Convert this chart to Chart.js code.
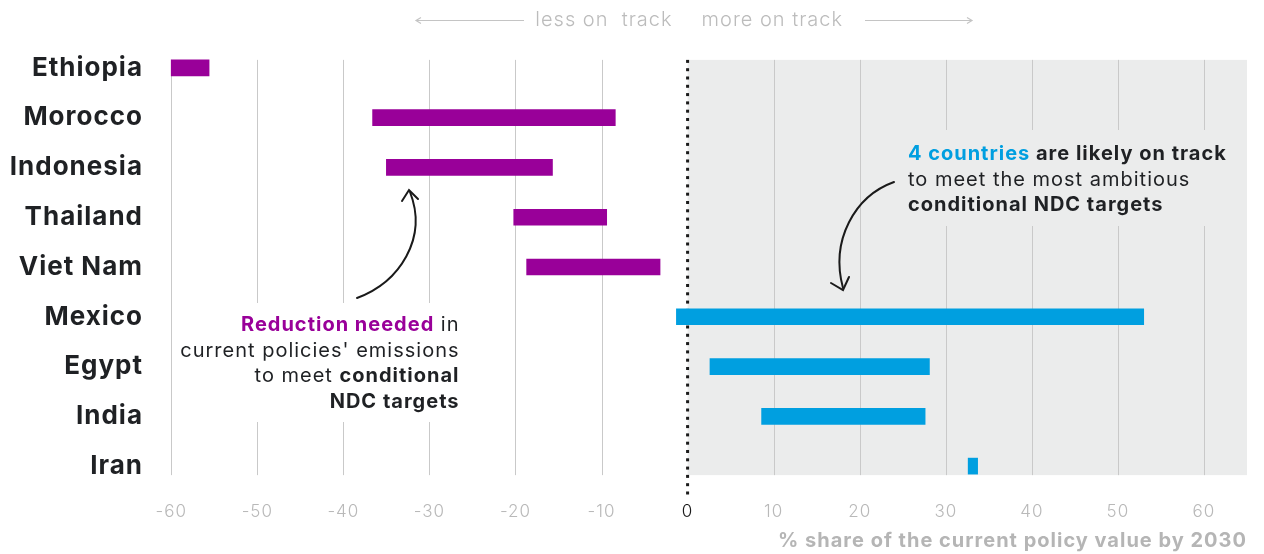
<!DOCTYPE html>
<html>
<head>
<meta charset="utf-8">
<script src="https://cdn.jsdelivr.net/npm/chart.js@4.4.1/dist/chart.umd.min.js"></script>
<style>
  html, body { margin: 0; padding: 0; background: #fff; }
  #wrap { width: 1264px; height: 554px; position: relative; }
</style>
</head>
<body>
<div id="wrap"><canvas id="ndcChart"></canvas></div>
<script>
const countries = ['Ethiopia', 'Morocco', 'Indonesia', 'Thailand', 'Viet Nam', 'Mexico', 'Egypt', 'India', 'Iran'];
const rangeStart = [-60, -36.6, -35.0, -20.2, -18.7, -1.3, 2.6, 8.6, 32.6];
const rangeEnd = [-55.6, -8.4, -15.7, -9.4, -3.2, 53.0, 28.1, 27.6, 33.7];
const onTrack = [false, false, false, false, false, true, true, true, true];
const xTicks = [-60, -50, -40, -30, -20, -10, 0, 10, 20, 30, 40, 50, 60];

const FONT = 'Inter, "Open Sans", sans-serif';
const purple = '#990099';
const blue = '#009fe0';
const dark = '#1f2124';
const lightGrey = '#b9b9b9';

const drawRuns = (ctx, runs, x, y, align, size) => {
    let total = 0;
    runs.forEach(r => {
        ctx.font = r[1] + ' ' + size + 'px ' + FONT;
        total += ctx.measureText(r[0]).width;
    });
    let cx = align === 'right' ? x - total : x;
    ctx.textAlign = 'left';
    ctx.textBaseline = 'middle';
    runs.forEach(r => {
        ctx.font = r[1] + ' ' + size + 'px ' + FONT;
        ctx.fillStyle = r[2];
        ctx.fillText(r[0], cx, y);
        cx += ctx.measureText(r[0]).width;
    });
};

const arrowHead = (ctx, tx, ty, ax, ay, bx, by) => {
    ctx.beginPath();
    ctx.moveTo(ax, ay);
    ctx.lineTo(tx, ty);
    ctx.lineTo(bx, by);
    ctx.stroke();
};

const decorations = {
    id: 'decorations',
    beforeDraw(chart) {
        // wider text, closer to the original geometric font
        chart.ctx.letterSpacing = '1px';
    },
    beforeDatasetsDraw(chart) {
        const ctx = chart.ctx;
        const x = chart.scales.x;
        const y = chart.scales.y;
        const area = chart.chartArea;
        const top = y.getPixelForValue(0) - 8;
        const bottom = y.getPixelForValue(countries.length - 1) + 9;
        const zero = x.getPixelForValue(0);

        ctx.save();
        // grey "on track" side
        ctx.fillStyle = '#ebecec';
        ctx.fillRect(zero, top, area.right - zero, bottom - top);

        // grid lines
        ctx.strokeStyle = '#c9c9c9';
        ctx.lineWidth = 1;
        xTicks.forEach(v => {
            if (v === 0) return;
            const px = Math.round(x.getPixelForValue(v)) + 0.5;
            ctx.beginPath();
            ctx.moveTo(px, top);
            ctx.lineTo(px, bottom);
            ctx.stroke();
        });

        // boxes behind the notes
        ctx.fillStyle = '#ffffff';
        ctx.fillRect(x.getPixelForValue(-56.5), 303, x.getPixelForValue(-25.5) - x.getPixelForValue(-56.5), 119);
        ctx.fillStyle = '#ebecec';
        ctx.fillRect(x.getPixelForValue(24.5), 130, area.right - x.getPixelForValue(24.5), 96);

        // dotted zero line
        ctx.fillStyle = '#1a1a1a';
        for (let py = top; py < bottom + 18; py += 8.3) {
            ctx.fillRect(zero - 1.5, py, 3, 3);
        }
        ctx.restore();
    },
    afterDatasetsDraw(chart) {
        const ctx = chart.ctx;
        const x = chart.scales.x;
        const zero = x.getPixelForValue(0);

        ctx.save();
        // header
        ctx.letterSpacing = '1px';
        ctx.font = '300 20px ' + FONT;
        ctx.fillStyle = '#bcbcbc';
        ctx.textBaseline = 'middle';
        ctx.textAlign = 'right';
        ctx.fillText('less on  track', zero - 15, 20);
        ctx.textAlign = 'left';
        ctx.fillText('more on track', zero + 14, 20);
        ctx.strokeStyle = '#c4c4c4';
        ctx.lineWidth = 1.2;
        ctx.beginPath();
        ctx.moveTo(416, 20.5); ctx.lineTo(524, 20.5);
        ctx.moveTo(865, 20.5); ctx.lineTo(972, 20.5);
        ctx.stroke();
        arrowHead(ctx, 416, 20.5, 421, 17.5, 421, 23.5);
        arrowHead(ctx, 972, 20.5, 967, 17.5, 967, 23.5);

        // left note
        const lx = x.getPixelForValue(-26.5);
        drawRuns(ctx, [['Reduction needed', '700', purple], [' in', '400', dark]], lx, 325, 'right', 20);
        drawRuns(ctx, [["current policies' emissions", '400', dark]], lx, 351, 'right', 20);
        drawRuns(ctx, [['to meet ', '400', dark], ['conditional', '700', dark]], lx, 376, 'right', 20);
        drawRuns(ctx, [['NDC targets', '700', dark]], lx, 402, 'right', 20);

        // right note
        const rx = x.getPixelForValue(25.6);
        drawRuns(ctx, [['4 countries', '700', blue], [' are likely on track', '700', dark]], rx, 154, 'left', 20);
        drawRuns(ctx, [['to meet the most ambitious', '400', dark]], rx, 180, 'left', 20);
        drawRuns(ctx, [['conditional NDC targets', '700', dark]], rx, 205, 'left', 20);

        // curved arrows
        ctx.strokeStyle = '#1a1a1a';
        ctx.lineWidth = 2;
        ctx.lineCap = 'round';
        ctx.beginPath();
        ctx.moveTo(357, 298);
        ctx.bezierCurveTo(400, 282, 428, 238, 410, 192);
        ctx.stroke();
        arrowHead(ctx, 409, 190, 402, 201, 418, 199);

        ctx.beginPath();
        ctx.moveTo(894, 182);
        ctx.bezierCurveTo(855, 196, 830, 240, 843, 288);
        ctx.stroke();
        arrowHead(ctx, 843, 290, 831, 283, 849, 277);
        ctx.restore();
    }
};

const ctx = document.getElementById('ndcChart').getContext('2d');
const chart = new Chart(ctx, {
    type: 'bar',
    data: {
        labels: countries,
        datasets: [{
            data: countries.map((c, i) => [rangeStart[i], rangeEnd[i]]),
            backgroundColor: onTrack.map(t => t ? blue : purple),
            barThickness: 16,
            borderSkipped: false
        }]
    },
    options: {
        indexAxis: 'y',
        responsive: true,
        maintainAspectRatio: false,
        animation: false,
        layout: { padding: { top: 43, right: 17, bottom: 0, left: 0 } },
        plugins: {
            legend: { display: false },
            tooltip: { enabled: false }
        },
        scales: {
            x: {
                type: 'linear',
                min: -62,
                max: 65,
                afterBuildTicks: s => { s.ticks = xTicks.map(v => ({ value: v })); },
                afterFit: s => { s.height = 63; },
                grid: { display: false, drawTicks: false, tickLength: 0 },
                border: { display: false },
                ticks: {
                    padding: 11,
                    font: { family: FONT, size: 17, weight: '300' },
                    color: c => c.tick && c.tick.value === 0 ? '#1a1a1a' : lightGrey
                },
                title: {
                    display: true,
                    text: '% share of the current policy value by 2030',
                    align: 'end',
                    color: '#b5b5b5',
                    font: { family: FONT, size: 20, weight: '700' },
                    padding: { top: 0, bottom: 1 }
                }
            },
            y: {
                afterFit: s => { s.width = 154; },
                grid: { display: false, drawTicks: false, tickLength: 0 },
                border: { display: false },
                ticks: {
                    padding: 11,
                    font: { family: FONT, size: 26, weight: '700' },
                    color: dark
                }
            }
        }
    },
    plugins: [decorations]
});
</script>
</body>
</html>
